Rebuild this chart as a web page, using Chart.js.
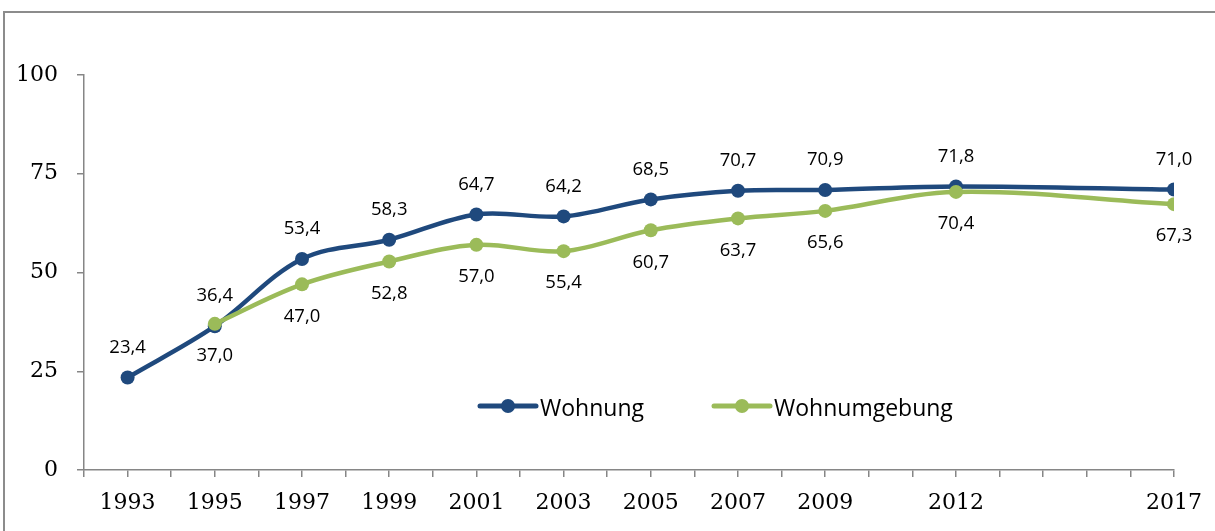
<!DOCTYPE html>
<html>
<head>
<meta charset="utf-8">
<script src="https://cdn.jsdelivr.net/npm/chart.js@4.4.1/dist/chart.umd.min.js"></script>
<style>
  html, body { margin: 0; padding: 0; background: #fff; overflow: hidden; }
  #wrap { position: relative; width: 1215px; height: 531px; }
  #frame {
    position: absolute; left: 3px; top: 11px; width: 1300px; height: 600px;
    border-left: 2px solid #8c8c8c; border-top: 2px solid #8c8c8c;
  }
  canvas { position: absolute; left: 0; top: 0; }
</style>
</head>
<body>
<div id="wrap">
  <div id="frame"></div>
  <canvas id="chart" width="1215" height="531"></canvas>
</div>
<script>
// Jahre mit Werten
const years = [1993, 1995, 1997, 1999, 2001, 2003, 2005, 2007, 2009, 2012, 2017];
const wohnung = [23.4, 36.4, 53.4, 58.3, 64.7, 64.2, 68.5, 70.7, 70.9, 71.8, 71.0];

const umgebungYears = [1995, 1997, 1999, 2001, 2003, 2005, 2007, 2009, 2012, 2017];
const wohnumgebung = [37.0, 47.0, 52.8, 57.0, 55.4, 60.7, 63.7, 65.6, 70.4, 67.3];

const yTicks = [0, 25, 50, 75, 100];
const xMin = 1992;
const xMax = 2017;

const axisColor = '#868686';
const fmt = (v) => v.toFixed(1).replace('.', ',');

const toPoints = (xs, ys) => xs.map((x, i) => ({ x, y: ys[i] }));

const dataLabels = {
  id: 'dataLabels',
  afterDatasetsDraw(chart) {
    const ctx = chart.ctx;
    ctx.save();
    ctx.font = '18.5px "Open Sans"';
    ctx.fillStyle = '#000';
    ctx.textAlign = 'center';
    ctx.textBaseline = 'middle';
    chart.data.datasets.forEach((ds, i) => {
      const meta = chart.getDatasetMeta(i);
      meta.data.forEach((pt, j) => {
        ctx.fillText(fmt(ds.data[j].y), pt.x, pt.y + ds.labelOffset);
      });
    });
    ctx.restore();
  }
};

const lineLegend = {
  id: 'lineLegend',
  afterDraw(chart) {
    const ctx = chart.ctx;
    const y = 406;
    const starts = [480, 714];
    ctx.save();
    ctx.font = '23px "Open Sans"';
    ctx.textBaseline = 'alphabetic';
    ctx.textAlign = 'left';
    chart.data.datasets.forEach((ds, i) => {
      const x = starts[i];
      ctx.strokeStyle = ds.borderColor;
      ctx.lineWidth = 5;
      ctx.lineCap = 'round';
      ctx.beginPath();
      ctx.moveTo(x, y);
      ctx.lineTo(x + 56, y);
      ctx.stroke();
      ctx.fillStyle = ds.borderColor;
      ctx.beginPath();
      ctx.arc(x + 28, y, 7, 0, Math.PI * 2);
      ctx.fill();
      ctx.fillStyle = '#000';
      ctx.fillText(ds.label, x + 60, y + 10);
    });
    ctx.restore();
  }
};

new Chart(document.getElementById('chart'), {
  type: 'line',
  data: {
    datasets: [
      {
        label: 'Wohnung',
        data: toPoints(years, wohnung),
        borderColor: '#1F497D',
        backgroundColor: '#1F497D',
        borderWidth: 4.5,
        pointRadius: 7,
        pointBorderWidth: 0,
        tension: 0.35,
        order: 1,
        labelOffset: -30
      },
      {
        label: 'Wohnumgebung',
        data: toPoints(umgebungYears, wohnumgebung),
        borderColor: '#9BBB59',
        backgroundColor: '#9BBB59',
        borderWidth: 4.5,
        pointRadius: 7,
        pointBorderWidth: 0,
        tension: 0.35,
        order: 0,
        labelOffset: 32
      }
    ]
  },
  options: {
    responsive: false,
    animation: false,
    layout: { padding: { top: 75, right: 40, left: 0, bottom: 0 } },
    plugins: {
      legend: { display: false },
      tooltip: { enabled: false }
    },
    scales: {
      x: {
        type: 'linear',
        min: xMin,
        max: xMax,
        afterBuildTicks: (scale) => {
          const t = [];
          for (let v = xMin; v <= xMax; v++) t.push({ value: v });
          scale.ticks = t;
        },
        afterFit: (scale) => { scale.height = 61; },
        ticks: {
          autoSkip: false,
          maxRotation: 0,
          padding: 13,
          color: '#000',
          font: { family: 'DejaVu Serif', size: 22 },
          callback: (v) => (years.includes(v) ? String(v) : '')
        },
        grid: { drawOnChartArea: false, drawTicks: true, tickLength: 7, color: axisColor, lineWidth: 1.5 },
        border: { color: axisColor, width: 1.5 }
      },
      y: {
        min: 0,
        max: 100,
        afterBuildTicks: (scale) => { scale.ticks = yTicks.map((v) => ({ value: v })); },
        afterFit: (scale) => { scale.width = 84; },
        ticks: {
          padding: 19,
          color: '#000',
          font: { family: 'DejaVu Serif', size: 22 }
        },
        grid: { drawOnChartArea: false, drawTicks: true, tickLength: 7, color: axisColor, lineWidth: 1.5 },
        border: { color: axisColor, width: 1.5 }
      }
    }
  },
  plugins: [dataLabels, lineLegend]
});
</script>
</body>
</html>
